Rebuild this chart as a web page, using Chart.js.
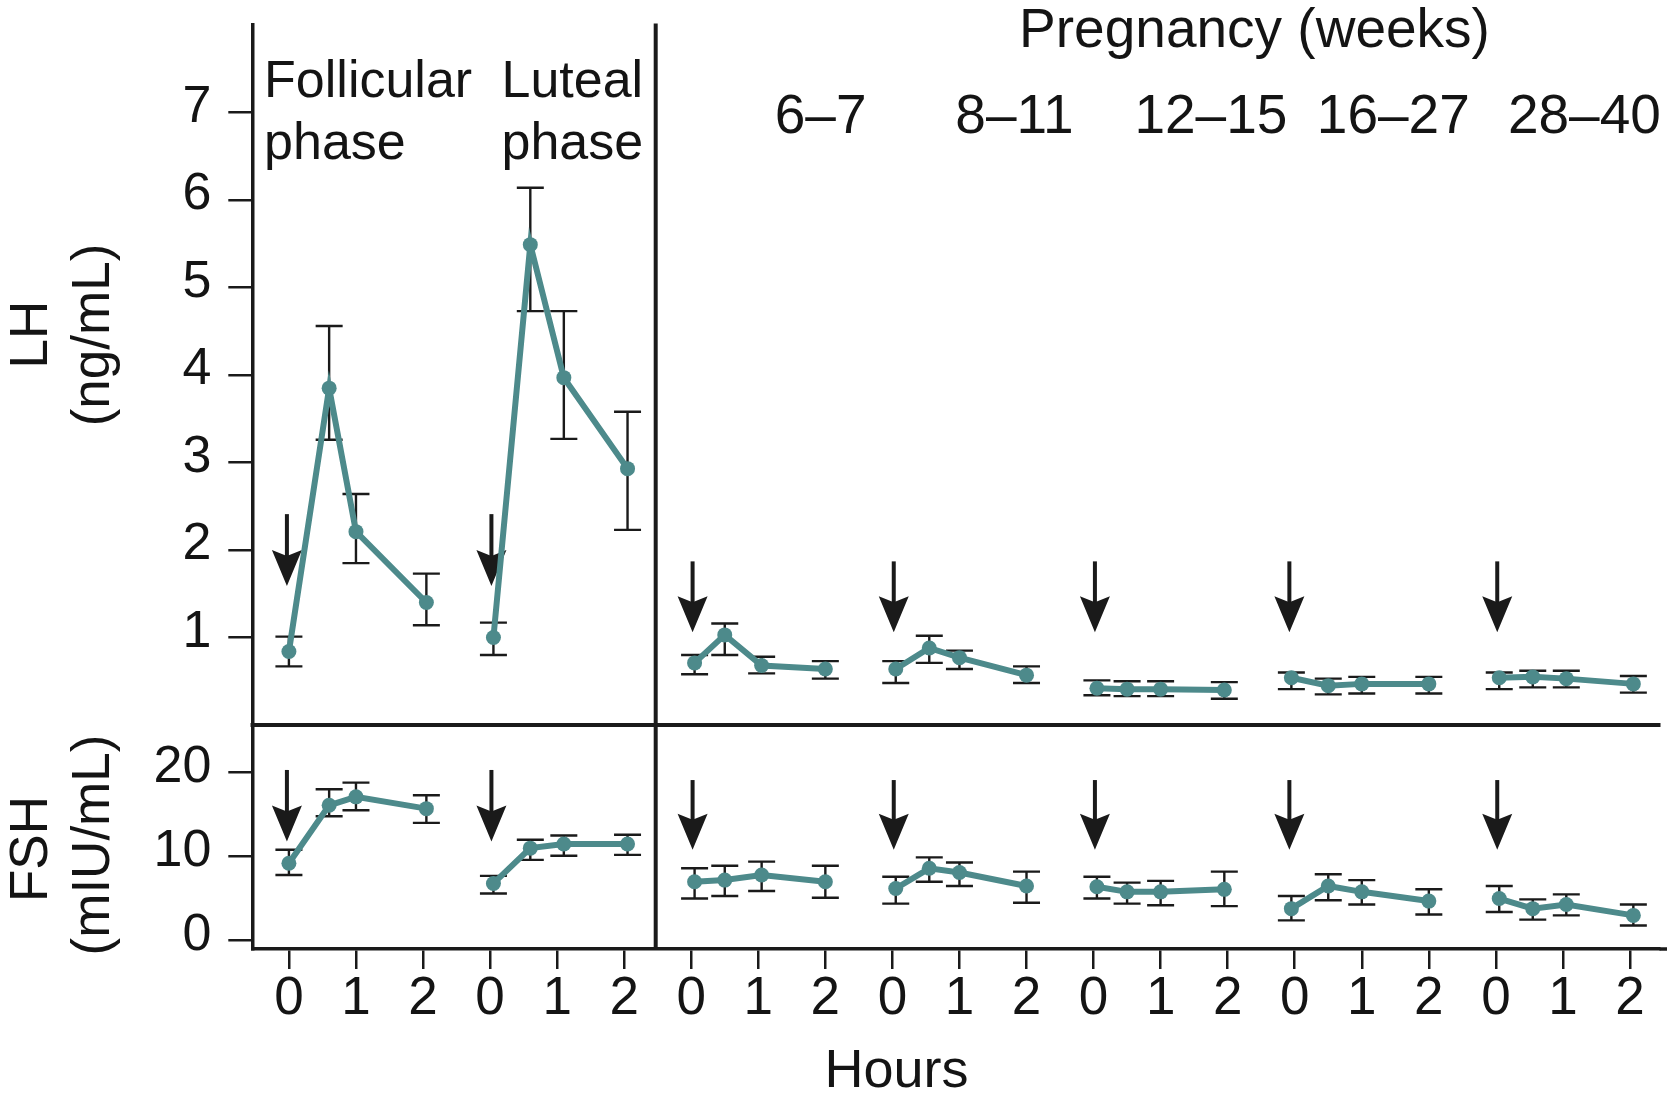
<!DOCTYPE html>
<html>
<head>
<meta charset="utf-8">
<script src="https://cdn.jsdelivr.net/npm/chart.js@4.4.1/dist/chart.umd.min.js"></script>
<style>
  html, body { margin: 0; padding: 0; background: #ffffff; overflow: hidden; }
  #wrap { position: relative; width: 1667px; height: 1099px; background: #ffffff; }
  #wrap canvas { position: absolute; left: 0; top: 0; }
</style>
</head>
<body>
<div id="wrap">
  <canvas id="lhChart" width="1667" height="1099"></canvas>
  <canvas id="fshChart" width="1667" height="1099"></canvas>
</div>
<script>
// ---------------- DATA ----------------
const groupNames = ['Follicular\nphase', 'Luteal\nphase', '6–7', '8–11', '12–15', '16–27', '28–40'];
const headerLabel = 'Pregnancy (weeks)';
const lhTitle = ['LH', '(ng/mL)'];
const fshTitle = ['FSH', '(mIU/mL)'];
const xTitle = 'Hours';

const hourTickValues = [0, 1, 2];
const hourTickLabels = ['0', '1', '2'];
const lhTicks = [1, 2, 3, 4, 5, 6, 7];
const fshTicks = [0, 10, 20];

// sampling times (hours after injection) in each group
const sampleHours = [
  [0, 0.6, 1.0, 2.05],
  [0.05, 0.6, 1.1, 2.05],
  [0.05, 0.5, 1.05, 2.0],
  [0.05, 0.55, 1.0, 2.0],
  [0.05, 0.5, 1.0, 1.95],
  [-0.05, 0.5, 1.0, 2.0],
  [0.05, 0.55, 1.05, 2.05]
];

const lhMean = [
  [0.84, 3.85, 2.21, 1.40],
  [1.00, 5.49, 3.97, 2.93],
  [0.71, 1.03, 0.68, 0.64],
  [0.64, 0.88, 0.77, 0.57],
  [0.42, 0.41, 0.41, 0.40],
  [0.54, 0.45, 0.47, 0.47],
  [0.54, 0.55, 0.53, 0.47]
];
const lhHigh = [
  [1.01, 4.56, 2.64, 1.73],
  [1.17, 6.14, 4.73, 3.58],
  [0.80, 1.16, 0.78, 0.73],
  [0.73, 1.02, 0.85, 0.67],
  [0.51, 0.50, 0.50, 0.49],
  [0.60, 0.53, 0.55, 0.55],
  [0.60, 0.62, 0.62, 0.56]
];
const lhLow = [
  [0.67, 3.26, 1.85, 1.14],
  [0.80, 4.73, 3.27, 2.23],
  [0.58, 0.80, 0.59, 0.53],
  [0.48, 0.71, 0.64, 0.48],
  [0.34, 0.33, 0.33, 0.30],
  [0.41, 0.35, 0.36, 0.36],
  [0.41, 0.43, 0.43, 0.37]
];

const fshMean = [
  [9.2, 16.1, 17.1, 15.7],
  [6.8, 11.0, 11.5, 11.5],
  [7.0, 7.2, 7.8, 7.0],
  [6.2, 8.6, 8.1, 6.5],
  [6.4, 5.8, 5.8, 6.1],
  [3.8, 6.5, 5.8, 4.7],
  [5.0, 3.8, 4.3, 3.0]
];
const fshHigh = [
  [10.8, 18.0, 18.8, 17.3],
  [7.7, 12.0, 12.5, 12.6],
  [8.6, 8.9, 9.4, 8.9],
  [7.6, 9.9, 9.3, 8.2],
  [7.6, 6.9, 7.1, 8.2],
  [5.3, 7.9, 7.2, 6.1],
  [6.5, 4.9, 5.5, 4.3]
];
const fshLow = [
  [7.8, 14.8, 15.5, 14.0],
  [5.6, 9.6, 10.1, 10.2],
  [5.0, 5.3, 5.9, 5.1],
  [4.4, 7.0, 6.5, 4.5],
  [5.0, 4.4, 4.2, 4.1],
  [2.4, 4.8, 4.3, 3.1],
  [3.4, 2.5, 3.0, 1.8]
];

// injection arrows (value at tail and at tip)
const lhArrowTail = [2.41, 2.41, 1.87, 1.87, 1.87, 1.87, 1.87];
const lhArrowTip = [1.59, 1.59, 1.06, 1.06, 1.06, 1.06, 1.06];
const fshArrowTail = [20.3, 20.3, 19.1, 19.1, 19.1, 19.1, 19.1];
const fshArrowTip = [11.8, 11.8, 10.8, 10.8, 10.8, 10.8, 10.8];

// ---------------- STYLE / LAYOUT ----------------
const GROUP_SPAN = 3;
const TEAL = '#4d8a8b';
const INK = '#1a1a1a';
const TXT = '#141414';
const FONT = "'Liberation Sans', Arial, Helvetica, sans-serif";
const X_MIN = -0.546, X_MAX = 20.44;
const AXIS_W = 252.3;

Chart.defaults.font.family = FONT;

const xTickValues = [];
groupNames.forEach((_, g) => hourTickValues.forEach(h => xTickValues.push(g * GROUP_SPAN + h)));

function hourLabel(v) {
  const h = ((Math.round(v) % GROUP_SPAN) + GROUP_SPAN) % GROUP_SPAN;
  const i = hourTickValues.indexOf(h);
  return i >= 0 ? hourTickLabels[i] : '';
}

function buildDatasets(mean, high, low) {
  return groupNames.map((name, g) => ({
    label: name,
    data: sampleHours[g].map((h, i) => ({ x: g * GROUP_SPAN + h, y: mean[g][i] })),
    errHigh: high[g],
    errLow: low[g],
    borderColor: TEAL,
    backgroundColor: TEAL,
    borderWidth: 6,
    pointRadius: 7.5,
    pointHoverRadius: 7.5,
    pointBackgroundColor: TEAL,
    pointBorderWidth: 0,
    tension: 0,
    fill: false
  }));
}

const errorBarPlugin = {
  id: 'errorBars',
  beforeDatasetsDraw(chart) {
    const { ctx } = chart;
    const xs = chart.scales.x, ys = chart.scales.y;
    ctx.save();
    ctx.strokeStyle = INK;
    ctx.lineWidth = 2.4;
    chart.data.datasets.forEach(ds => {
      ds.data.forEach((p, i) => {
        const x = xs.getPixelForValue(p.x);
        const yh = ys.getPixelForValue(ds.errHigh[i]);
        const yl = ys.getPixelForValue(ds.errLow[i]);
        ctx.beginPath();
        ctx.moveTo(x, yh); ctx.lineTo(x, yl);
        ctx.moveTo(x - 13.5, yh); ctx.lineTo(x + 13.5, yh);
        ctx.moveTo(x - 13.5, yl); ctx.lineTo(x + 13.5, yl);
        ctx.stroke();
      });
    });
    ctx.restore();
  }
};

const arrowPlugin = {
  id: 'arrows',
  beforeDatasetsDraw(chart, args, opts) {
    const { ctx } = chart;
    const xs = chart.scales.x, ys = chart.scales.y;
    ctx.save();
    ctx.fillStyle = INK;
    ctx.strokeStyle = INK;
    opts.tail.forEach((tv, g) => {
      const x = xs.getPixelForValue(g * GROUP_SPAN + sampleHours[g][0]) - 2;
      const yt = ys.getPixelForValue(tv);
      const yp = ys.getPixelForValue(opts.tip[g]);
      const headL = 36, headW = 15, notch = 6;
      ctx.lineWidth = 4;
      ctx.beginPath();
      ctx.moveTo(x, yt);
      ctx.lineTo(x, yp - headL + notch + 2);
      ctx.stroke();
      ctx.beginPath();
      ctx.moveTo(x, yp);
      ctx.lineTo(x - headW, yp - headL);
      ctx.lineTo(x, yp - headL + notch);
      ctx.lineTo(x + headW, yp - headL);
      ctx.closePath();
      ctx.fill();
    });
    ctx.restore();
  }
};

function drawRotatedTitle(ctx, lines, baselines, centers) {
  ctx.save();
  ctx.fillStyle = TXT;
  ctx.font = `53px ${FONT}`;
  ctx.textAlign = 'center';
  ctx.textBaseline = 'alphabetic';
  lines.forEach((t, i) => {
    ctx.save();
    ctx.translate(baselines[i], centers[i]);
    ctx.rotate(-Math.PI / 2);
    ctx.fillText(t, 0, 0);
    ctx.restore();
  });
  ctx.restore();
}

const lhDecorPlugin = {
  id: 'lhDecor',
  afterDraw(chart, args, o) {
    const { ctx, chartArea: ca } = chart;
    const xs = chart.scales.x, ys = chart.scales.y;
    ctx.save();
    // panel separator (bottom of LH panel)
    ctx.strokeStyle = INK;
    ctx.lineWidth = 4;
    ctx.beginPath();
    ctx.moveTo(ca.left - 1.75, ca.bottom);
    ctx.lineTo(ca.right + 1, ca.bottom);
    ctx.stroke();
    // group labels
    ctx.fillStyle = TXT;
    ctx.textBaseline = 'alphabetic';
    groupNames.forEach((name, g) => {
      const lines = name.split('\n');
      const x = xs.getPixelForValue(o.labelX[g]);
      ctx.textAlign = o.labelAlign[g];
      ctx.font = `${lines.length > 1 ? o.cycleSize : o.pregSize}px ${FONT}`;
      const ySet = lines.length > 1 ? o.twoLineY : o.oneLineY;
      lines.forEach((t, i) => ctx.fillText(t, x, ys.getPixelForValue(ySet[i])));
    });
    ctx.font = `${o.pregSize}px ${FONT}`;
    ctx.textAlign = 'center';
    ctx.fillText(headerLabel, xs.getPixelForValue(o.headerX), ys.getPixelForValue(o.headerY));
    ctx.restore();
    drawRotatedTitle(ctx, lhTitle, [47, 109], [334.5, 335]);
  }
};

const fshDecorPlugin = {
  id: 'fshDecor',
  afterDraw(chart, args, o) {
    const { ctx, chartArea: ca } = chart;
    const xs = chart.scales.x;
    ctx.save();
    ctx.strokeStyle = INK;
    // vertical separator between menstrual cycle and pregnancy
    ctx.lineWidth = 4;
    const sx = xs.getPixelForValue(o.separatorX);
    ctx.beginPath();
    ctx.moveTo(sx, 23.5);
    ctx.lineTo(sx, ca.bottom);
    ctx.stroke();
    // bottom axis runs to the page edge
    ctx.lineWidth = 3.5;
    ctx.beginPath();
    ctx.moveTo(ca.right, ca.bottom);
    ctx.lineTo(chart.width, ca.bottom);
    ctx.stroke();
    // x title
    ctx.fillStyle = TXT;
    ctx.font = `54px ${FONT}`;
    ctx.textAlign = 'center';
    ctx.textBaseline = 'alphabetic';
    ctx.fillText(xTitle, xs.getPixelForValue(o.titleX), 1086.5);
    ctx.restore();
    drawRotatedTitle(ctx, fshTitle, [47, 109], [849, 845]);
  }
};

function yAxis(min, max, ticks) {
  return {
    type: 'linear',
    position: 'left',
    min: min,
    max: max,
    afterBuildTicks: s => { s.ticks = ticks.map(v => ({ value: v })); },
    afterFit: s => { s.width = AXIS_W; s.paddingTop = 0; s.paddingBottom = 0; },
    ticks: {
      font: { size: 52, family: FONT },
      color: TXT,
      padding: 17,
      labelOffset: -5,
      autoSkip: false
    },
    grid: { drawOnChartArea: false, drawTicks: true, tickLength: 24, lineWidth: 2.5, color: INK },
    border: { display: true, width: 3.5, color: INK }
  };
}

// ---------------- LH CHART ----------------
new Chart(document.getElementById('lhChart'), {
  type: 'line',
  data: { datasets: buildDatasets(lhMean, lhHigh, lhLow) },
  plugins: [errorBarPlugin, arrowPlugin, lhDecorPlugin],
  options: {
    responsive: false,
    devicePixelRatio: 1,
    animation: false,
    events: [],
    layout: { padding: { top: 25, bottom: 374, left: 0, right: 4 } },
    scales: {
      x: {
        type: 'linear', min: X_MIN, max: X_MAX, display: false,
        afterFit: s => { s.paddingLeft = 0; s.paddingRight = 0; }
      },
      y: yAxis(0, 8, lhTicks)
    },
    plugins: {
      legend: { display: false },
      tooltip: { enabled: false },
      arrows: { tail: lhArrowTail, tip: lhArrowTip },
      lhDecor: {
        labelX: [-0.37, 3.17, 7.93, 10.82, 13.75, 16.47, 19.32],
        labelAlign: ['left', 'left', 'center', 'center', 'center', 'center', 'center'],
        cycleSize: 52,
        pregSize: 55,
        twoLineY: [7.18, 6.47],
        oneLineY: [6.77],
        headerX: 14.4,
        headerY: 7.75
      }
    }
  }
});

// ---------------- FSH CHART ----------------
new Chart(document.getElementById('fshChart'), {
  type: 'line',
  data: { datasets: buildDatasets(fshMean, fshHigh, fshLow) },
  plugins: [errorBarPlugin, arrowPlugin, fshDecorPlugin],
  options: {
    responsive: false,
    devicePixelRatio: 1,
    animation: false,
    events: [],
    layout: { padding: { top: 725, bottom: 0, left: 0, right: 4 } },
    scales: {
      x: {
        type: 'linear', min: X_MIN, max: X_MAX, position: 'bottom',
        afterBuildTicks: s => { s.ticks = xTickValues.map(v => ({ value: v })); },
        afterFit: s => { s.height = 150; s.paddingLeft = 0; s.paddingRight = 0; },
        ticks: {
          callback: v => hourLabel(v),
          font: { size: 53, family: FONT, lineHeight: 1 },
          color: TXT,
          padding: 4,
          maxRotation: 0,
          minRotation: 0,
          autoSkip: false
        },
        grid: { drawOnChartArea: false, drawTicks: true, tickLength: 20, lineWidth: 2.5, color: INK },
        border: { display: true, width: 3.5, color: INK }
      },
      y: yAxis(-1, 25.65, fshTicks)
    },
    plugins: {
      legend: { display: false },
      tooltip: { enabled: false },
      arrows: { tail: fshArrowTail, tip: fshArrowTip },
      fshDecor: { separatorX: 5.47, titleX: 9.06 }
    }
  }
});
</script>
</body>
</html>
